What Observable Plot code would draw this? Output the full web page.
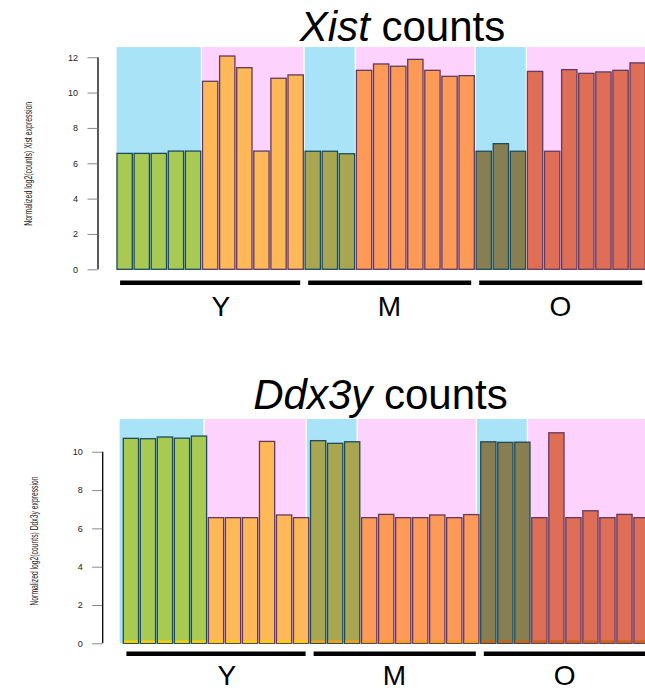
<!DOCTYPE html>
<html><head><meta charset="utf-8">
<script src="https://cdn.jsdelivr.net/npm/d3@7"></script>
<script src="https://cdn.jsdelivr.net/npm/@observablehq/plot@0.6"></script>
<style>
body{margin:0;background:#fff;}
#fig{position:relative;width:645px;height:690px;overflow:hidden;font-family:"Liberation Sans",Arial,sans-serif;background:#fff;}
.title{position:absolute;width:645px;text-align:center;font-size:42px;line-height:42px;color:#000;white-space:nowrap;z-index:2;}
.panel{position:absolute;left:0;z-index:1;}
</style></head><body>
<div id="fig">
  <div class="panel" id="p1" style="top:0px"></div>
  <div class="panel" id="p2" style="top:360px"></div>
  <div class="title" style="top:6px;left:80px"><i>Xist</i> counts</div>
  <div class="title" style="top:374px;left:58px"><i>Ddx3y</i> counts</div>
</div>
<script>
// ---- data ----
const groups = ["Y", "M", "O"];
const groupMaleCount = [5, 3, 3];
const groupFemaleCount = [6, 7, 7];
const groupLabelAt = [6.1, 15.95, 25.95];
const xistValues = [6.56, 6.56, 6.56, 6.69, 6.69,
  10.64, 12.07, 11.41, 6.69, 10.81, 11.0,
  6.68, 6.68, 6.54,
  11.26, 11.62, 11.49, 11.88, 11.26, 10.92, 10.96,
  6.68, 7.11, 6.68,
  11.2, 6.68, 11.3, 11.09, 11.17, 11.26, 11.68];
const ddx3yValues = [10.70, 10.68, 10.77, 10.71, 10.82,
  6.56, 6.56, 6.56, 10.54, 6.70, 6.56,
  10.58, 10.44, 10.52,
  6.56, 6.73, 6.56, 6.56, 6.70, 6.56, 6.72,
  10.52, 10.49, 10.50,
  6.56, 10.99, 6.56, 6.92, 6.56, 6.73, 6.56];
const ddx3yBase = [0.15, 0.15, 0.15];
const xistTicks = [0, 2, 4, 6, 8, 10, 12];
const ddx3yTicks = [0, 2, 4, 6, 8, 10];

// ---- styles ----
const maleFill = ["#a8c952", "#a9a652", "#877f52"];
const femaleFill = ["#feb857", "#fe9a57", "#df6e57"];
const baseFill = ["#f6d10a", "#f4a21a", "#cc6414"];
const maleStroke = "#1e4a5a", femaleStroke = "#63395f";
const bgMale = "#a9e3f8", bgFemale = "#fdd3fd";

// build bar table and group table
const bars = [], bgs = [], grp = [];
let idx = 0;
groups.forEach((g, gi) => {
  const start = idx;
  for (let k = 0; k < groupMaleCount[gi]; k++) bars.push({i: idx++, g, gi, fill: maleFill[gi], stroke: maleStroke, base: baseFill[gi]});
  const mid = idx;
  for (let k = 0; k < groupFemaleCount[gi]; k++) bars.push({i: idx++, g, gi, fill: femaleFill[gi], stroke: femaleStroke, base: baseFill[gi]});
  bgs.push({x1: start, x2: mid, fill: bgMale});
  bgs.push({x1: mid, x2: idx, fill: bgFemale});
  grp.push({g, start, end: idx, at: groupLabelAt[gi]});
});
const N = bars.length;

function panel(o) {
  const rows = bars.map((b, k) => ({...b, v: o.values[k], b0: o.base ? o.base[b.gi] : 0}));
  const marks = [
    Plot.rect(bgs, {x1: "x1", x2: "x2", y1: 0, y2: o.yTop, fill: "fill", insetRight: 1.3, dx: o.bgDx}),
    Plot.rect(rows, {x1: "i", x2: d => d.i + 1, y1: 0, y2: "v", fill: "fill", stroke: "stroke", strokeWidth: 1.3, insetLeft: 0.9, insetRight: 0.9})
  ];
  if (o.base) marks.push(Plot.rect(rows, {x1: "i", x2: d => d.i + 1, y1: 0, y2: "b0", fill: "base", insetLeft: 1.6, insetRight: 1.6, insetBottom: 0.4}));
  marks.push(
    Plot.ruleX([0], {y1: 0, y2: o.ticks[o.ticks.length - 1], dx: o.axisDx, stroke: "#000", strokeWidth: 1.3}),
    Plot.axisY({ticks: o.ticks, tickSize: 10, tickPadding: 10, dx: o.axisDx, stroke: "#888", fill: "#222", label: null, fontSize: 9}),
    Plot.text([o.label], {frameAnchor: "left", y: (o.ticks[0] + o.ticks[o.ticks.length - 1]) / 2, dy: o.labelDy + o.labelLen / 2, dx: -88, rotate: -90, fontSize: 10, textAnchor: "start", text: d => d, fill: "#222"}),
    Plot.ruleY(grp, {y: 0, x1: "start", x2: "end", dy: o.lineDy, stroke: "#000", strokeWidth: 4.5, insetLeft: 4, insetRight: 4}),
    Plot.text(grp, {x: "at", y: 0, dy: o.textDy, text: "g", fontSize: 28, fill: "#000"})
  );
  const svg = Plot.plot({
    width: 645, height: 330,
    marginTop: o.marginTop, marginBottom: o.marginBottom, marginLeft: o.xStart, marginRight: 0,
    x: {type: "linear", domain: [0, N], range: [o.xStart, o.xStart + N * o.pitch], axis: null},
    y: {domain: [0, o.yTop], axis: null},
    color: {type: "identity"},
    style: {fontFamily: "'Liberation Sans', Arial, sans-serif", fontSize: "9px", background: "transparent", overflow: "visible"},
    marks
  });
  svg.querySelectorAll("text").forEach(t => {
    if (t.textContent.startsWith("Normalized")) {
      t.setAttribute("textLength", o.labelLen);
      t.setAttribute("lengthAdjust", "spacingAndGlyphs");
    }
  });
  return svg;
}

document.getElementById("p1").append(panel({
  values: xistValues, ticks: xistTicks, yTop: 12.58,
  marginTop: 47, marginBottom: 60.7, xStart: 116.1, pitch: 17.1, bgDx: 0.5,
  axisDx: -18.6, label: "Normalized log2(counts) Xist expression", labelDy: 0, labelLen: 124,
  lineDy: 13, textDy: 37
}));
document.getElementById("p2").append(panel({
  values: ddx3yValues, base: ddx3yBase, ticks: ddx3yTicks, yTop: 11.71,
  marginTop: 59, marginBottom: 46.7, xStart: 122.4, pitch: 17.02, bgDx: -2.8,
  axisDx: -20.2, label: "Normalized log2(counts) Ddx3y expression", labelDy: -7, labelLen: 129,
  lineDy: 10, textDy: 32
}));
</script>
</body></html>
